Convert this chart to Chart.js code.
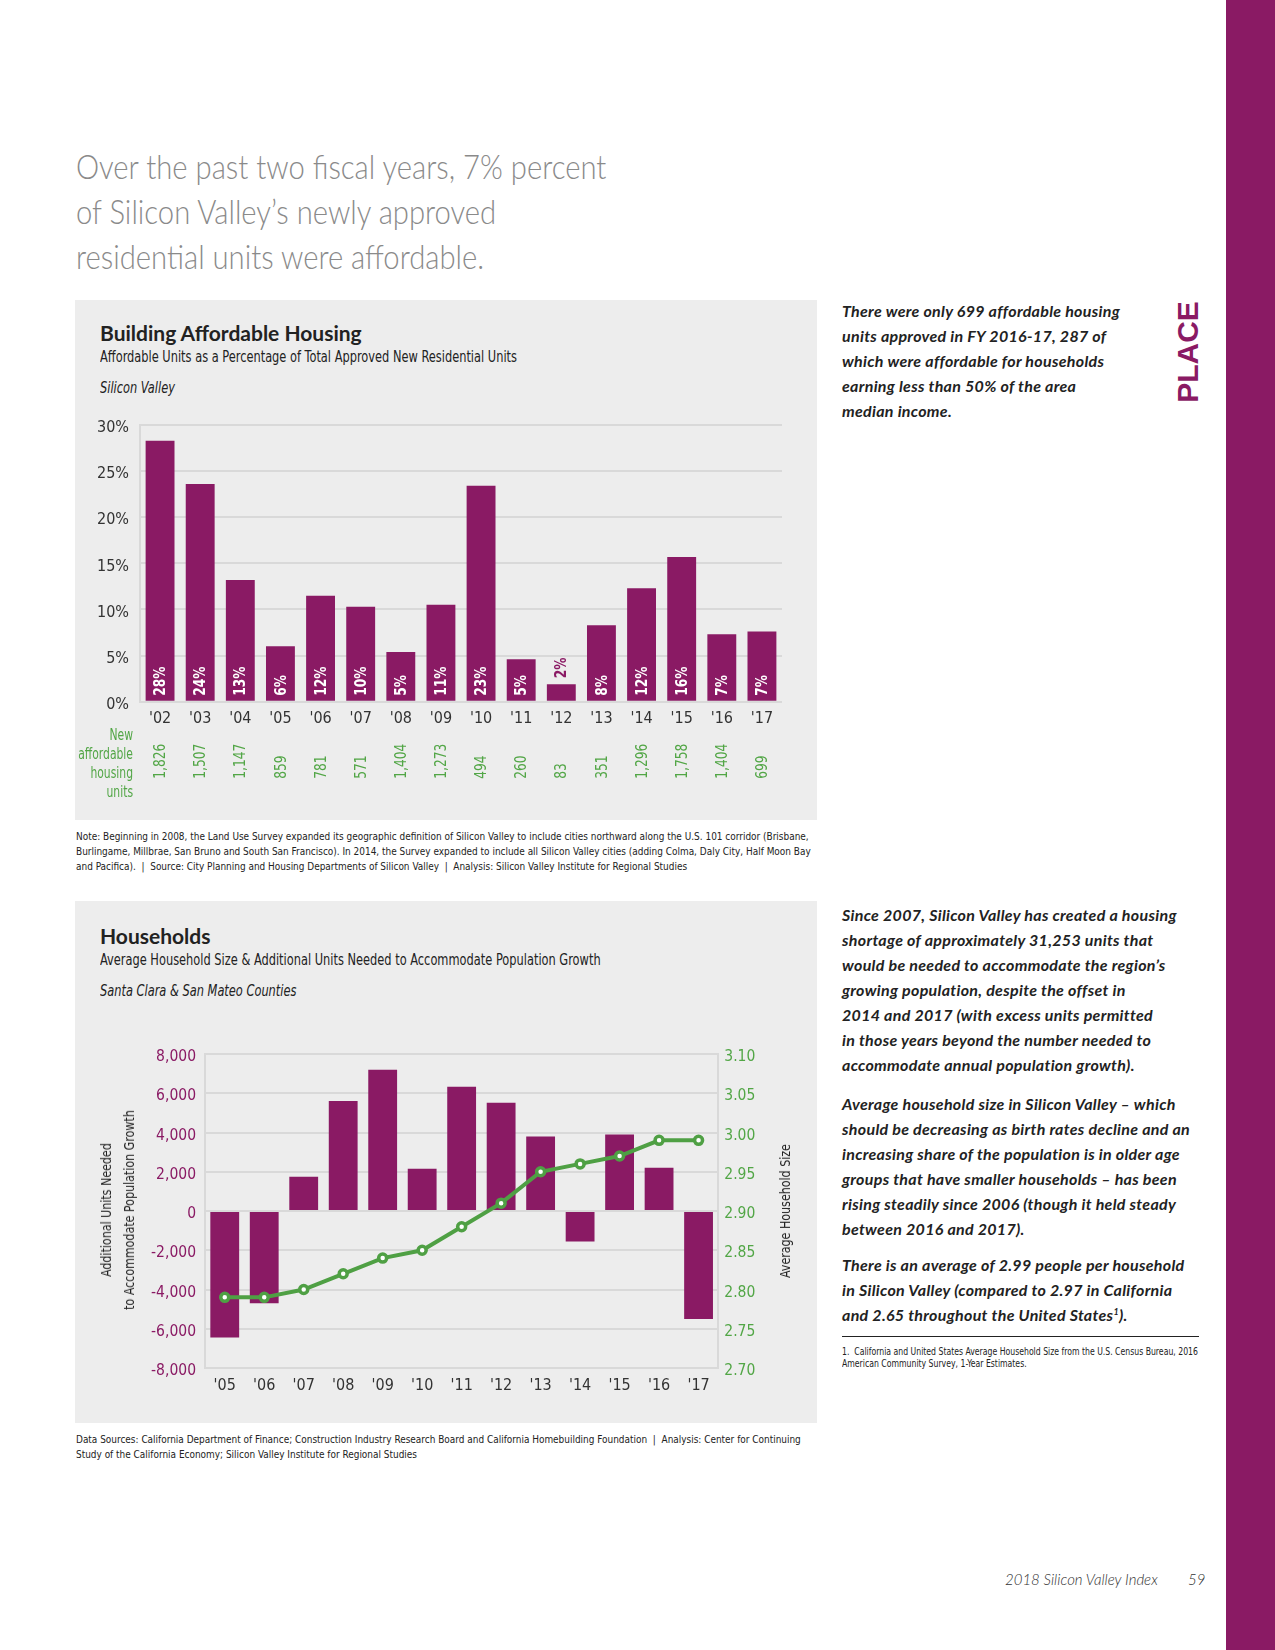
<!DOCTYPE html>
<html>
<head>
<meta charset="utf-8">
<script src="https://cdn.jsdelivr.net/npm/chart.js@4.4.1/dist/chart.umd.min.js"></script>
<style>
  body { margin: 0; background: #fff; }
  #page { position: relative; width: 1275px; height: 1650px; overflow: hidden; font-family: 'DejaVu Sans Condensed', sans-serif; color: #222; }
  .abs { position: absolute; white-space: nowrap; }
  .sx { transform-origin: left top; transform: scaleX(0.845); }
  .panel { position: absolute; left: 75px; width: 742px; background: #ededed; }
  .headline { left: 76px; top: 143px; font-family: Lato, sans-serif; font-weight: 300; font-size: 34px; color: #8a8a8a; line-height: 45px; transform-origin: left top; transform: scaleX(0.86); }
  .ctitle { font-family: Lato, sans-serif; font-weight: 700; font-size: 21px; color: #222; }
  .csub { font-size: 15px; color: #222; }
  .cgeo { font-size: 15px; font-style: italic; color: #222; }
  .note { left: 76px; font-size: 9.95px; line-height: 15px; color: #222; }
  .side { left: 842px; font-family: Lato, sans-serif; font-style: italic; font-weight: 700; font-size: 16px; line-height: 25px; color: #222; letter-spacing: 0.3px; }
  .rot { transform-origin: center center; text-align: center; }
  canvas { position: absolute; }
</style>
</head>
<body>
<div id="page">
  <div class="abs" style="left:1226px; top:0; width:49px; height:1650px; background:#8a1a64;"></div>
  <div class="abs rot" style="left:1188px; top:352px; transform: translate(-50%, -50%) rotate(-90deg); font-family:'Liberation Sans', sans-serif; font-weight:700; font-size:30px; color:#8a1a64;">PLACE</div>

  <div class="abs headline">Over the past two fiscal years, 7% percent<br>of Silicon Valley’s newly approved<br>residential units were affordable.</div>

  <div class="panel" style="top:300px; height:520px;"></div>
  <div class="abs ctitle" style="left:100px; top:320px;">Building Affordable Housing</div>
  <div class="abs csub sx" style="left:100px; top:348px;">Affordable Units as a Percentage of Total Approved New Residential Units</div>
  <div class="abs cgeo sx" style="left:100px; top:379px;">Silicon Valley</div>
  <canvas id="chart1" width="742" height="410" style="left:75px; top:400px; width:742px; height:410px;"></canvas>

  <div class="abs note" style="top:829px;">Note: Beginning in 2008, the Land Use Survey expanded its geographic definition of Silicon Valley to include cities northward along the U.S. 101 corridor (Brisbane,<br>Burlingame, Millbrae, San Bruno and South San Francisco). In 2014, the Survey expanded to include all Silicon Valley cities (adding Colma, Daly City, Half Moon Bay<br>and Pacifica). &nbsp;|&nbsp; Source: City Planning and Housing Departments of Silicon Valley &nbsp;|&nbsp; Analysis: Silicon Valley Institute for Regional Studies</div>

  <div class="panel" style="top:901px; height:522px;"></div>
  <div class="abs ctitle" style="left:100px; top:923px;">Households</div>
  <div class="abs csub sx" style="left:100px; top:951px;">Average Household Size &amp; Additional Units Needed to Accommodate Population Growth</div>
  <div class="abs cgeo sx" style="left:100px; top:982px;">Santa Clara &amp; San Mateo Counties</div>
  <canvas id="chart2" width="742" height="400" style="left:75px; top:1020px; width:742px; height:400px;"></canvas>
  <div class="abs rot" style="left:118px; top:1210px; font-size:14px; line-height:23px; transform: translate(-50%, -50%) rotate(-90deg) scaleX(0.88);">Additional Units Needed<br>to Accommodate Population Growth</div>
  <div class="abs rot" style="left:785px; top:1211px; font-size:14px; transform: translate(-50%, -50%) rotate(-90deg) scaleX(0.88);">Average Household Size</div>

  <div class="abs note" style="top:1432px;">Data Sources: California Department of Finance; Construction Industry Research Board and California Homebuilding Foundation &nbsp;|&nbsp; Analysis: Center for Continuing<br>Study of the California Economy; Silicon Valley Institute for Regional Studies</div>

  <div class="abs side" style="top:298px;">There were only 699 affordable housing<br>units approved in FY 2016-17, 287 of<br>which were affordable for households<br>earning less than 50% of the area<br>median income.</div>

  <div class="abs side" style="top:902px;">Since 2007, Silicon Valley has created a housing<br>shortage of approximately 31,253 units that<br>would be needed to accommodate the region’s<br>growing population, despite the offset in<br>2014 and 2017 (with excess units permitted<br>in those years beyond the number needed to<br>accommodate annual population growth).</div>
  <div class="abs side" style="top:1091px;">Average household size in Silicon Valley – which<br>should be decreasing as birth rates decline and an<br>increasing share of the population is in older age<br>groups that have smaller households – has been<br>rising steadily since 2006 (though it held steady<br>between 2016 and 2017).</div>
  <div class="abs side" style="top:1252px;">There is an average of 2.99 people per household<br>in Silicon Valley (compared to 2.97 in California<br>and 2.65 throughout the United States<sup style="font-size:9px; line-height:0;">1</sup>).</div>
  <div class="abs" style="left:842px; top:1336px; width:357px; height:0; border-top:1.5px solid #222;"></div>
  <div class="abs" style="left:842px; top:1345px; font-size:10.5px; line-height:12px; transform-origin:left top; transform:scaleX(0.82);">1. &nbsp;California and United States Average Household Size from the U.S. Census Bureau, 2016<br>American Community Survey, 1-Year Estimates.</div>

  <div class="abs" style="left:1005px; top:1570px; font-family:Lato, sans-serif; font-weight:300; font-style:italic; font-size:15px; color:#333;">2018 Silicon Valley Index</div>
  <div class="abs" style="left:1188px; top:1570px; font-family:Lato, sans-serif; font-weight:300; font-style:italic; font-size:15px; color:#333;">59</div>
</div>

<script>
const PURPLE = '#8a1a64';
const GREEN = '#52a646';
const GRID = '#d9d9d9';
const COND = "'DejaVu Sans Condensed', sans-serif";

// Building Affordable Housing
const years1 = ["'02", "'03", "'04", "'05", "'06", "'07", "'08", "'09", "'10", "'11", "'12", "'13", "'14", "'15", "'16", "'17"];
const affordablePct = [28.3, 23.6, 13.2, 6.0, 11.5, 10.3, 5.4, 10.5, 23.4, 4.6, 1.9, 8.3, 12.3, 15.7, 7.3, 7.6];
const pctLabels = ['28%', '24%', '13%', '6%', '12%', '10%', '5%', '11%', '23%', '5%', '2%', '8%', '12%', '16%', '7%', '7%'];
const newUnits = ['1,826', '1,507', '1,147', '859', '781', '571', '1,404', '1,273', '494', '260', '83', '351', '1,296', '1,758', '1,404', '699'];
const pctTicks = [0, 5, 10, 15, 20, 25, 30];

// Households
const years2 = ["'05", "'06", "'07", "'08", "'09", "'10", "'11", "'12", "'13", "'14", "'15", "'16", "'17"];
const unitsNeeded = [-6450, -4700, 1750, 5600, 7200, 2150, 6330, 5520, 3800, -1550, 3900, 2200, -5500];
const householdSize = [2.79, 2.79, 2.80, 2.82, 2.84, 2.85, 2.88, 2.91, 2.95, 2.96, 2.97, 2.99, 2.99];

Chart.defaults.font.family = COND;
Chart.defaults.color = '#333';

// draws text squeezed horizontally, optionally turned to read bottom-to-top
function condText(ctx, text, x, y, opts) {
    ctx.save();
    ctx.translate(x, y);
    if (opts.vertical) ctx.rotate(-Math.PI / 2);
    ctx.scale(opts.squeeze || 0.85, 1);
    ctx.font = opts.font;
    ctx.fillStyle = opts.color;
    ctx.textAlign = opts.align || 'left';
    ctx.textBaseline = 'middle';
    ctx.fillText(text, 0, 1);
    ctx.restore();
}

const barLabels = {
    id: 'barLabels',
    afterDatasetsDraw(chart) {
        const ctx = chart.ctx;
        const bars = chart.getDatasetMeta(0).data;
        const area = chart.chartArea;
        bars.forEach((bar, i) => {
            ctx.font = 'bold 16px ' + COND;
            const len = ctx.measureText(pctLabels[i]).width * 0.85;
            const inside = bar.base - bar.y > len + 10;
            condText(ctx, pctLabels[i], bar.x, inside ? bar.base - 5 : bar.y - 6, {
                vertical: true, font: 'bold 16px ' + COND, color: inside ? '#fff' : PURPLE
            });
            condText(ctx, newUnits[i], chart.scales.x.getPixelForValue(i), area.bottom + 77, {
                vertical: true, font: '16px ' + COND, color: GREEN
            });
        });
        ['New', 'affordable', 'housing', 'units'].forEach((t, k) => {
            condText(ctx, t, area.left - 7, area.bottom + 33 + k * 19, {
                font: '15px ' + COND, color: GREEN, align: 'right', squeeze: 0.8
            });
        });
    }
};

new Chart(document.getElementById('chart1'), {
    type: 'bar',
    data: {
        labels: years1,
        datasets: [{
            data: affordablePct,
            backgroundColor: PURPLE,
            barPercentage: 0.72,
            categoryPercentage: 1
        }]
    },
    options: {
        responsive: false,
        animation: false,
        layout: { padding: { left: 0, right: 35, top: 25, bottom: 0 } },
        plugins: { legend: { display: false }, tooltip: { enabled: false } },
        scales: {
            x: {
                grid: { display: false, drawTicks: false },
                border: { display: false },
                ticks: { font: { size: 16 }, color: '#333', padding: 8 },
                afterFit: s => { s.height = 108.3; }
            },
            y: {
                min: 0, max: 30,
                afterBuildTicks: s => { s.ticks = pctTicks.map(v => ({ value: v })); },
                grid: { color: GRID, lineWidth: 2, drawTicks: false },
                border: { color: GRID, width: 2 },
                ticks: { font: { size: 16 }, color: '#333', padding: 11, labelOffset: 3, callback: v => v + '%' },
                afterFit: s => { s.width = 65; }
            }
        }
    },
    plugins: [barLabels]
});

new Chart(document.getElementById('chart2'), {
    type: 'bar',
    data: {
        labels: years2,
        datasets: [{
            type: 'line',
            data: householdSize,
            yAxisID: 'y1',
            borderColor: '#4fa044',
            borderWidth: 4,
            pointRadius: 4,
            pointBorderWidth: 3.5,
            pointBackgroundColor: '#fff',
            pointBorderColor: '#4fa044',
            order: 0
        }, {
            data: unitsNeeded,
            yAxisID: 'y',
            backgroundColor: PURPLE,
            barPercentage: 0.73,
            categoryPercentage: 1,
            order: 1
        }]
    },
    options: {
        responsive: false,
        animation: false,
        layout: { padding: { left: 0, right: 0, top: 34, bottom: 0 } },
        plugins: { legend: { display: false }, tooltip: { enabled: false } },
        scales: {
            x: {
                grid: { display: false, drawTicks: false },
                border: { display: false },
                ticks: { font: { size: 16 }, color: '#333', padding: 8 },
                afterFit: s => { s.height = 52; }
            },
            y: {
                position: 'left',
                min: -8000, max: 8000,
                ticks: { stepSize: 2000, font: { size: 15.5 }, color: PURPLE, padding: 9, labelOffset: 3,
                         callback: v => v.toLocaleString('en-US') },
                grid: { color: GRID, lineWidth: 2, drawTicks: false },
                border: { color: GRID, width: 2 },
                afterFit: s => { s.width = 130; }
            },
            y1: {
                position: 'right',
                min: 2.70, max: 3.10,
                ticks: { stepSize: 0.05, font: { size: 15.5 }, color: GREEN, padding: 6, labelOffset: 3,
                         callback: v => v.toFixed(2) },
                grid: { display: false, drawTicks: false },
                border: { color: GRID, width: 2 },
                afterFit: s => { s.width = 98.7; }
            }
        }
    }
});
</script>
</body>
</html>
